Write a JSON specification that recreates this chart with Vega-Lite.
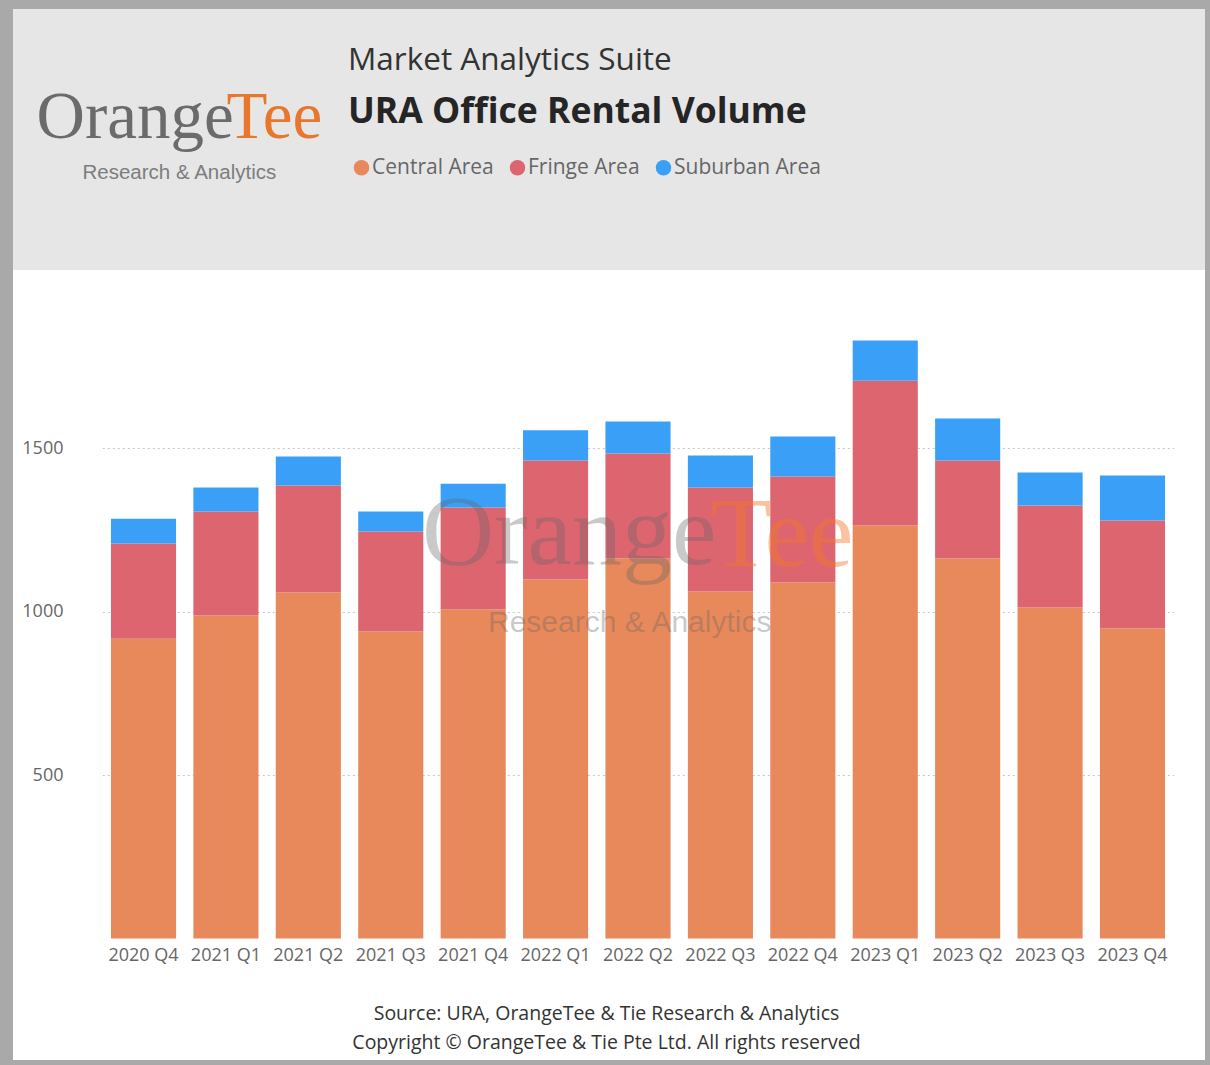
{
  "$schema": "https://vega.github.io/schema/vega-lite/v6.json",
  "background": "#a9a9a9",
  "padding": {"left": 13, "top": 9, "right": 5, "bottom": 5},
  "autosize": {"type": "pad"},
  "bounds": "flush",
  "spacing": 0,
  "config": {"view": {"stroke": null}, "font": "Open Sans"},
  "vconcat": [
    {
      "width": 1192,
      "height": 261,
      "view": {"fill": "#e6e6e6", "stroke": null},
      "data": {"values": [{"part": "header"}]},
      "title": {
        "text": "Market Analytics Suite",
        "subtitle": "URA Office Rental Volume",
        "anchor": "start",
        "frame": "group",
        "orient": "top",
        "baseline": "top",
        "align": "left",
        "dx": 335,
        "offset": -121,
        "font": "Open Sans",
        "fontSize": 31.5,
        "fontWeight": "normal",
        "color": "#333333",
        "subtitleFont": "Open Sans",
        "subtitleFontSize": 35.5,
        "subtitleFontWeight": "bold",
        "subtitleColor": "#252525",
        "subtitlePadding": 18
      },
      "layer": [
        {
          "mark": {"type": "point", "opacity": 0, "size": 1},
          "encoding": {
            "x": {"datum": 0.5, "type": "quantitative", "scale": {"domain": [0, 1]},
              "axis": {"orient": "bottom", "labels": false, "ticks": false, "domain": false, "grid": false,
                "title": "Orange", "titleX": 23, "titleY": -133, "titleAlign": "left", "titleBaseline": "alphabetic", "titleAngle": 0,
                "titleFont": "Liberation Serif", "titleFontSize": 67, "titleFontWeight": "normal", "titleColor": "#6b6b6b"}},
            "y": {"datum": 0.5, "type": "quantitative", "scale": {"domain": [0, 1]},
              "axis": {"orient": "left", "labels": false, "ticks": false, "domain": false, "grid": false,
                "title": "Tee", "titleX": 213, "titleY": 128, "titleAlign": "left", "titleBaseline": "alphabetic", "titleAngle": 0,
                "titleFont": "Liberation Serif", "titleFontSize": 67, "titleFontWeight": "normal", "titleColor": "#e8772e"}}
          }
        },
        {
          "mark": {"type": "point", "opacity": 0, "size": 1},
          "encoding": {
            "x": {"datum": 0.5, "type": "quantitative", "scale": {"domain": [0, 1]},
              "axis": {"orient": "top", "labels": false, "ticks": false, "domain": false, "grid": false,
                "title": "Research & Analytics", "titleX": 69, "titleY": 169, "titleAlign": "left", "titleBaseline": "alphabetic", "titleAngle": 0,
                "titleFont": "Liberation Sans", "titleFontSize": 20.5, "titleFontWeight": "normal", "titleColor": "#7d7d7d"}}
          }
        }
      ],
      "resolve": {"scale": {"x": "independent"}, "axis": {"x": "independent"}}
    },
    {
      "width": 1192,
      "height": 790,
      "view": {"fill": "#ffffff", "stroke": null},
      "data": {"values": [
        {"quarter": "2020 Q4", "area": "Central Area", "volume": 917},
        {"quarter": "2020 Q4", "area": "Fringe Area", "volume": 291},
        {"quarter": "2020 Q4", "area": "Suburban Area", "volume": 76},
        {"quarter": "2021 Q1", "area": "Central Area", "volume": 988},
        {"quarter": "2021 Q1", "area": "Fringe Area", "volume": 318},
        {"quarter": "2021 Q1", "area": "Suburban Area", "volume": 73},
        {"quarter": "2021 Q2", "area": "Central Area", "volume": 1058},
        {"quarter": "2021 Q2", "area": "Fringe Area", "volume": 327},
        {"quarter": "2021 Q2", "area": "Suburban Area", "volume": 89},
        {"quarter": "2021 Q3", "area": "Central Area", "volume": 939},
        {"quarter": "2021 Q3", "area": "Fringe Area", "volume": 306},
        {"quarter": "2021 Q3", "area": "Suburban Area", "volume": 61},
        {"quarter": "2021 Q4", "area": "Central Area", "volume": 1006},
        {"quarter": "2021 Q4", "area": "Fringe Area", "volume": 312},
        {"quarter": "2021 Q4", "area": "Suburban Area", "volume": 73},
        {"quarter": "2022 Q1", "area": "Central Area", "volume": 1098},
        {"quarter": "2022 Q1", "area": "Fringe Area", "volume": 364},
        {"quarter": "2022 Q1", "area": "Suburban Area", "volume": 92},
        {"quarter": "2022 Q2", "area": "Central Area", "volume": 1162},
        {"quarter": "2022 Q2", "area": "Fringe Area", "volume": 321},
        {"quarter": "2022 Q2", "area": "Suburban Area", "volume": 98},
        {"quarter": "2022 Q3", "area": "Central Area", "volume": 1061},
        {"quarter": "2022 Q3", "area": "Fringe Area", "volume": 318},
        {"quarter": "2022 Q3", "area": "Suburban Area", "volume": 98},
        {"quarter": "2022 Q4", "area": "Central Area", "volume": 1089},
        {"quarter": "2022 Q4", "area": "Fringe Area", "volume": 324},
        {"quarter": "2022 Q4", "area": "Suburban Area", "volume": 122},
        {"quarter": "2023 Q1", "area": "Central Area", "volume": 1263},
        {"quarter": "2023 Q1", "area": "Fringe Area", "volume": 443},
        {"quarter": "2023 Q1", "area": "Suburban Area", "volume": 123},
        {"quarter": "2023 Q2", "area": "Central Area", "volume": 1162},
        {"quarter": "2023 Q2", "area": "Fringe Area", "volume": 300},
        {"quarter": "2023 Q2", "area": "Suburban Area", "volume": 128},
        {"quarter": "2023 Q3", "area": "Central Area", "volume": 1012},
        {"quarter": "2023 Q3", "area": "Fringe Area", "volume": 312},
        {"quarter": "2023 Q3", "area": "Suburban Area", "volume": 101},
        {"quarter": "2023 Q4", "area": "Central Area", "volume": 948},
        {"quarter": "2023 Q4", "area": "Fringe Area", "volume": 330},
        {"quarter": "2023 Q4", "area": "Suburban Area", "volume": 138}
      ]},
      "title": {
        "text": "Orange",
        "subtitle": "\u2800\u2800\u2800Research & Analytics",
        "anchor": "start",
        "frame": "group",
        "orient": "top",
        "baseline": "top",
        "align": "left",
        "dx": 409,
        "offset": -369,
        "font": "Liberation Serif",
        "fontSize": 100,
        "fontWeight": "normal",
        "color": "rgba(100,100,100,0.35)",
        "subtitleFont": "Liberation Sans",
        "subtitleFontSize": 30,
        "subtitleFontWeight": "normal",
        "subtitleColor": "rgba(100,100,100,0.35)",
        "subtitlePadding": 23
      },
      "mark": {"type": "bar"},
      "encoding": {
        "x": {
          "field": "quarter", "type": "ordinal", "sort": null,
          "scale": {"range": [89.3, 1160.7], "paddingInner": 0.21, "paddingOuter": 0.105},
          "axis": {
            "orient": "bottom", "offset": -122, "labelAngle": 0, "domain": false, "ticks": false, "tickSize": 0, "grid": false, "zindex": 1,
            "labelPadding": 8, "labelFontSize": 18, "labelColor": "#666666", "labelFont": "Open Sans",
            "title": "Tee", "titleX": 697, "titleY": -373, "titleAlign": "left", "titleBaseline": "alphabetic", "titleAngle": 0,
            "titleFont": "Liberation Serif", "titleFontSize": 100, "titleFontWeight": "normal", "titleColor": "rgba(245,120,40,0.45)"
          }
        },
        "y": {
          "field": "volume", "type": "quantitative", "stack": "zero",
          "scale": {"domain": [0, 2000], "range": [668.5, 14.5], "nice": false, "zero": true},
          "axis": {
            "orient": "left", "values": [500, 1000, 1500], "format": "d", "domain": false, "ticks": false, "tickSize": 0,
            "labelAlign": "right", "labelBaseline": "middle", "labelPadding": -50,
            "labelFontSize": 18, "labelColor": "#666666", "labelFont": "Open Sans",
            "grid": true, "gridColor": "#c8c8c8", "gridDash": [2, 3], "gridWidth": 1, "zindex": 0,
            "title": ["Source: URA, OrangeTee & Tie Research & Analytics", "Copyright © OrangeTee & Tie Pte Ltd. All rights reserved"],
            "titleX": 593, "titleY": 749, "titleAlign": "center", "titleBaseline": "alphabetic", "titleLineHeight": 29, "titleAngle": 0,
            "titleFont": "Open Sans", "titleFontSize": 19.5, "titleFontWeight": "normal", "titleColor": "#333333"
          }
        },
        "order": {"field": "area", "type": "ordinal", "sort": "ascending"},
        "color": {
          "field": "area", "type": "nominal",
          "scale": {"domain": ["Central Area", "Fringe Area", "Suburban Area"], "range": ["#e8895b", "#dd6570", "#3aa0f7"]},
          "legend": {
            "orient": "none", "direction": "horizontal", "legendX": 338, "legendY": 148, "title": null,
            "padding": 0, "symbolType": "circle", "symbolSize": 240, "symbolStrokeWidth": 0, "symbolOpacity": 1,
            "labelFont": "Open Sans", "labelFontSize": 21, "labelColor": "#666666", "labelOffset": 0, "columnPadding": 13
          }
        }
      }
    }
  ]
}
